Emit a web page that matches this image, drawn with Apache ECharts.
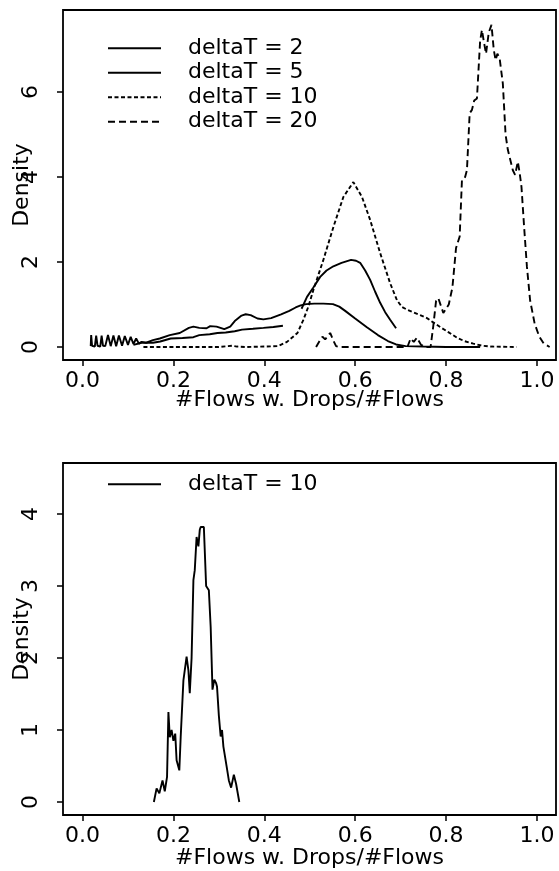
<!DOCTYPE html>
<html><head><meta charset="utf-8">
<script src="https://cdn.jsdelivr.net/npm/echarts@6/dist/echarts.min.js"></script>
<style>html,body{margin:0;padding:0;background:#fff}#c{width:559px;height:871px}</style>
</head><body><div id="c"></div>
<script>
// ---- tick values / labels ----
const xTicks = [0, 0.2, 0.4, 0.6, 0.8, 1.0];
const yTicksTop = [0, 2, 4, 6];
const yTicksBottom = [0, 1, 2, 3, 4];
const xTitle = '#Flows w. Drops/#Flows';
const yTitle = 'Density';
const namesTop = ['deltaT = 2', 'deltaT = 5', 'deltaT = 10', 'deltaT = 20'];
const nameBottom = 'deltaT = 10';

// ---- top panel: deltaT = 2 ----
const dt2X = [0.018,0.019,0.021,0.027,0.030,0.033,0.039,0.042,0.045,0.050,0.056,0.062,0.068,0.074,0.080,0.087,0.093,0.100,0.106,0.112,0.118,0.124,0.130,0.140,0.155,0.170,0.192,0.214,0.234,0.244,0.257,0.273,0.281,0.295,0.312,0.325,0.335,0.350,0.359,0.370,0.385,0.398,0.415,0.437,0.455,0.469,0.480,0.492,0.510,0.530,0.551,0.565,0.578,0.600,0.625,0.650,0.672,0.690,0.711,0.750,0.800,0.875];
const dt2Y = [0.02,0.28,0.03,0.01,0.27,0.03,0.01,0.27,0.03,0.02,0.28,0.02,0.27,0.02,0.27,0.03,0.26,0.05,0.24,0.07,0.20,0.08,0.12,0.10,0.16,0.20,0.28,0.33,0.45,0.48,0.45,0.44,0.49,0.48,0.42,0.48,0.61,0.74,0.77,0.75,0.67,0.65,0.68,0.77,0.85,0.93,0.98,1.01,1.02,1.02,1.01,0.95,0.85,0.67,0.47,0.28,0.14,0.06,0.02,0.01,0.00,0.00];

// ---- top panel: deltaT = 5 (null = gap in the trace) ----
const dt5X = [0.112,0.130,0.155,0.171,0.194,0.220,0.244,0.257,0.280,0.297,0.315,0.335,0.351,0.375,0.398,0.420,0.441,0.460,0.482,0.494,0.508,0.523,0.537,0.552,0.570,0.591,0.602,0.611,0.622,0.633,0.644,0.655,0.666,0.677,0.690];
const dt5Y = [0.05,0.10,0.10,0.13,0.20,0.21,0.23,0.28,0.30,0.33,0.34,0.37,0.41,0.43,0.45,0.47,0.50,null,0.90,1.18,1.40,1.65,1.80,1.90,1.98,2.05,2.03,1.98,1.80,1.58,1.30,1.04,0.82,0.64,0.44];

// ---- top panel: deltaT = 10 ----
const dt10X = [0.134,0.200,0.300,0.320,0.330,0.340,0.360,0.430,0.450,0.473,0.486,0.497,0.508,0.530,0.552,0.574,0.596,0.615,0.633,0.655,0.677,0.692,0.703,0.714,0.727,0.743,0.758,0.787,0.805,0.824,0.840,0.860,0.880,0.900,0.955];
const dt10Y = [0.00,0.00,0.00,0.02,0.03,0.01,0.00,0.02,0.12,0.33,0.64,0.95,1.34,2.05,2.82,3.53,3.88,3.53,2.99,2.21,1.50,1.10,0.94,0.88,0.82,0.75,0.68,0.47,0.35,0.22,0.14,0.08,0.03,0.01,0.00];

// ---- top panel: deltaT = 20 ----
const dt20X = [0.514,0.522,0.528,0.534,0.545,0.552,0.558,0.565,0.700,0.715,0.722,0.729,0.736,0.745,0.755,0.766,0.772,0.778,0.783,0.794,0.806,0.814,0.822,0.830,0.835,0.842,0.846,0.852,0.857,0.862,0.868,0.875,0.879,0.883,0.888,0.894,0.900,0.905,0.909,0.913,0.918,0.925,0.931,0.936,0.947,0.952,0.958,0.962,0.966,0.972,0.978,0.985,0.995,1.005,1.015,1.028];
const dt20Y = [0.00,0.15,0.24,0.18,0.33,0.15,0.02,0.00,0.00,0.00,0.20,0.12,0.22,0.05,0.00,0.00,0.50,1.08,1.15,0.80,1.00,1.40,2.33,2.60,3.93,4.00,4.16,5.50,5.58,5.80,5.85,7.20,7.46,7.20,6.90,7.40,7.58,7.00,6.75,6.90,6.79,6.20,5.00,4.64,4.16,4.05,4.36,4.10,3.77,2.80,1.89,1.10,0.55,0.25,0.08,0.00];

// ---- bottom panel: deltaT = 10 ----
const bX = [0.157,0.163,0.169,0.176,0.181,0.186,0.189,0.192,0.196,0.200,0.204,0.207,0.213,0.216,0.222,0.229,0.233,0.236,0.240,0.244,0.247,0.251,0.255,0.258,0.260,0.267,0.272,0.278,0.282,0.286,0.290,0.294,0.296,0.300,0.304,0.307,0.310,0.317,0.322,0.327,0.333,0.338,0.345];
const bY = [0.00,0.19,0.12,0.30,0.15,0.35,1.25,0.90,1.00,0.85,0.95,0.58,0.44,0.90,1.69,2.02,1.83,1.51,2.00,3.08,3.22,3.68,3.55,3.78,3.82,3.82,3.00,2.94,2.43,1.56,1.70,1.65,1.60,1.20,0.91,1.00,0.77,0.50,0.30,0.20,0.38,0.25,0.00];

function pairs(xs, ys) { return xs.map((x, i) => [x, ys[i] === null ? '-' : ys[i]]); }

const FONT = 'DejaVu Sans';
const BLACK = '#000';
const txt = { fontFamily: FONT, fontSize: 22, color: BLACK };

function xAxis(gridIndex, nameGap) {
  return {
    type: 'value', gridIndex, min: -0.043, max: 1.042,
    name: xTitle, nameLocation: 'middle', nameGap, nameMoveOverlap: false,
    nameTextStyle: Object.assign({}, txt),
    axisLine: { show: false, onZero: false },
    axisTick: { show: true, inside: false, length: 6, customValues: xTicks, lineStyle: { color: BLACK, width: 1.5 } },
    axisLabel: Object.assign({ customValues: xTicks, margin: 10, formatter: v => v.toFixed(1) }, txt),
    splitLine: { show: false }
  };
}
function yAxis(gridIndex, min, max, ticks) {
  return {
    type: 'value', gridIndex, min, max,
    name: yTitle, nameLocation: 'middle', nameGap: 30, nameRotate: 90, nameMoveOverlap: false,
    nameTextStyle: Object.assign({}, txt),
    axisLine: { show: false, onZero: false },
    axisTick: { show: true, inside: false, length: 6, customValues: ticks, lineStyle: { color: BLACK, width: 1.5 } },
    axisLabel: Object.assign({ customValues: ticks, rotate: 90, margin: 21, formatter: v => String(v) }, txt),
    splitLine: { show: false }
  };
}
function line(name, data, type, xi) {
  return { name, type: 'line', data, xAxisIndex: xi, yAxisIndex: xi, symbol: 'none', showSymbol: false,
    connectNulls: false, silent: true, itemStyle: { color: BLACK }, lineStyle: { color: BLACK, width: 1.9, type } };
}

const DOT = [4, 2.5], DASH = [7, 4];
const legendText = { fontFamily: FONT, fontSize: 22, color: BLACK, lineHeight: 24.5, padding: [0, 0, 0, 22] };
const legendBase = { orient: 'vertical', left: 107, itemWidth: 53, itemHeight: 12, itemGap: 0, padding: 0,
  selectedMode: false, textStyle: legendText, itemStyle: { opacity: 0 } };

const option = {
  animation: false,
  backgroundColor: '#fff',
  grid: [
    { left: 63, top: 10, width: 493, height: 350, outerBoundsMode: 'none', containLabel: false, show: true, borderColor: BLACK, borderWidth: 1.8, backgroundColor: 'transparent' },
    { left: 63, top: 463, width: 493, height: 352, outerBoundsMode: 'none', containLabel: false, show: true, borderColor: BLACK, borderWidth: 1.8, backgroundColor: 'transparent' }
  ],
  xAxis: [xAxis(0, 29), xAxis(1, 32)],
  yAxis: [yAxis(0, -0.306, 7.93, yTicksTop), yAxis(1, -0.18, 4.708, yTicksBottom)],
  legend: [
    Object.assign({ data: namesTop, top: 36 }, legendBase),
    Object.assign({ data: ['bottom:' + nameBottom], top: 472, formatter: n => n.replace('bottom:', '') }, legendBase)
  ],
  series: [
    line(namesTop[0], pairs(dt2X, dt2Y), 'solid', 0),
    line(namesTop[1], pairs(dt5X, dt5Y), 'solid', 0),
    line(namesTop[2], pairs(dt10X, dt10Y), DOT, 0),
    line(namesTop[3], pairs(dt20X, dt20Y), DASH, 0),
    line('bottom:' + nameBottom, pairs(bX, bY), 'solid', 1)
  ]
};
const chart = echarts.init(document.getElementById('c'), null, { renderer: 'canvas' });
chart.setOption(option);
</script></body></html>
